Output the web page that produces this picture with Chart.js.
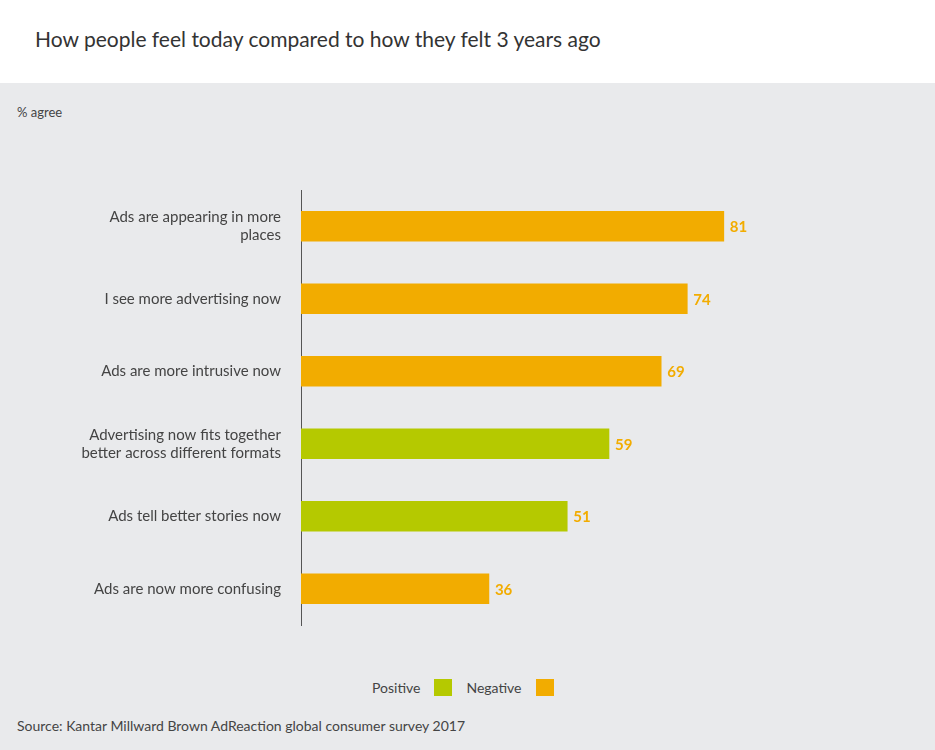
<!DOCTYPE html>
<html><head><meta charset="utf-8">
<script src="https://cdn.jsdelivr.net/npm/chart.js@4"></script>
<style>
body{margin:0;width:935px;height:750px;position:relative;font-family:Lato,"Open Sans",sans-serif;background:#fff;overflow:hidden}
#bg{position:absolute;left:0;top:83px;width:935px;height:667px;background:#e9eaec}
#title{position:absolute;left:35px;top:26px;font-size:21px;color:#333}
#unit{position:absolute;left:17px;top:104px;font-size:13px;color:#444}
#legend{position:absolute;left:372px;top:679px;font-size:14px;color:#444;display:flex;align-items:center}
#legend span.sw{display:inline-block;width:18px;height:17px;margin:0 14px 0 14px}
#src{position:absolute;left:17px;top:717px;font-size:14px;color:#444}
canvas{position:absolute;left:0;top:0}
</style></head><body>
<div id="bg"></div>
<div id="title">How people feel today compared to how they felt 3 years ago</div>
<div id="unit">% agree</div>
<div id="legend">Positive<span class="sw" style="background:#b5c900"></span>Negative<span class="sw" style="background:#f2ac00"></span></div>
<div id="src">Source: Kantar Millward Brown AdReaction global consumer survey 2017</div>
<canvas id="c" width="935" height="750"></canvas>
<script>
const categories=[["Ads are appearing in more","places"],"I see more advertising now","Ads are more intrusive now",["Advertising now fits together","better across different formats"],"Ads tell better stories now","Ads are now more confusing"];
const values=[81,74,69,59,51,36];
const sentiment=["Negative","Negative","Negative","Positive","Positive","Negative"];
const colorMap={Positive:"#b5c900",Negative:"#f2ac00"};
const labelPlugin={id:"lbl",afterDatasetsDraw(ch){const ctx=ch.ctx;const m=ch.getDatasetMeta(0);ctx.save();ctx.font="bold 15px Lato, sans-serif";ctx.fillStyle="#f2ac00";ctx.textBaseline="middle";m.data.forEach((b,i)=>{ctx.fillText(values[i],b.x+6,b.y+1)});ctx.restore();}};
new Chart(document.getElementById("c"),{type:"bar",
data:{labels:categories,datasets:[{data:values,backgroundColor:sentiment.map(s=>colorMap[s]),barThickness:30}]},
options:{indexAxis:"y",responsive:false,animation:false,
layout:{padding:{left:0,right:112,top:190,bottom:125}},
plugins:{legend:{display:false},tooltip:{enabled:false}},
scales:{x:{display:false,min:0,max:100},
y:{afterFit(s){s.width=301},grid:{display:false},border:{display:true,color:"#555",width:1},
ticks:{color:"#444",font:{size:15,family:"Lato, sans-serif"},padding:12,crossAlign:"near"}}}},
plugins:[labelPlugin]});
</script></body></html>
